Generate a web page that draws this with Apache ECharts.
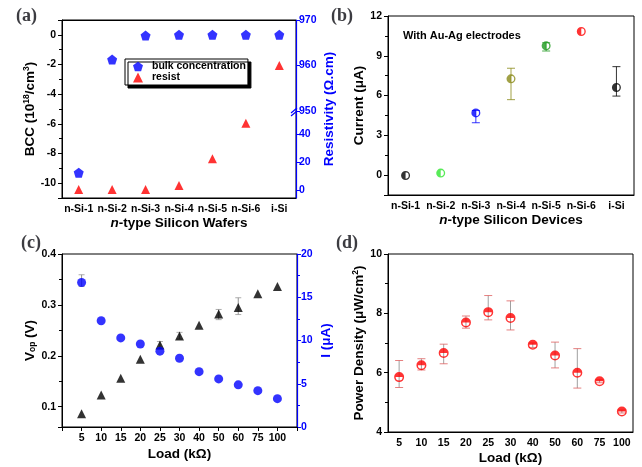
<!DOCTYPE html>
<html>
<head>
<meta charset="utf-8">
<script src="https://cdn.jsdelivr.net/npm/echarts@6/dist/echarts.min.js"></script>
<style>
html, body { margin: 0; padding: 0; background: #fff; }
#main { width: 642px; height: 467px; }
</style>
</head>
<body>
<div id="main"></div>
<script>
// (a) wafers
var wafers = ['n-Si-1', 'n-Si-2', 'n-Si-3', 'n-Si-4', 'n-Si-5', 'n-Si-6', 'i-Si'];
var bcc = [-9.29, -1.67, -0.05, 0, 0, 0, 0];
var resist = [0.3, 0.3, 0.4, 3.3, 22.4, 47.6, 960];

// (b) devices
var current = [-0.03, 0.15, 4.69, 7.26, 9.75, 10.83, 6.61];
var currentLow = [null, null, 3.95, 5.69, 9.36, null, 5.96];
var currentHigh = [null, null, 4.87, 8.06, 9.98, null, 8.18];
var deviceColors = ['#000000', '#2ee62e', '#0000ff', '#8a8a18', '#1e9a1e', '#ff0000', '#000000'];

// (c) load
var loads = ['5', '10', '15', '20', '25', '30', '40', '50', '60', '75', '100'];
var vop = [0.086, 0.123, 0.156, 0.193, 0.221, 0.239, 0.26, 0.282, 0.295, 0.322, 0.336];
var vopLow = [null, null, null, null, 0.213, 0.233, null, 0.271, 0.281, null, null];
var vopHigh = [null, null, null, null, 0.228, 0.246, null, 0.291, 0.314, null, null];
var iLoad = [16.7, 12.28, 10.3, 9.6, 8.77, 7.95, 6.4, 5.56, 4.87, 4.2, 3.28];
var iLow = [16.25, null, null, null, null, null, null, null, null, null, null];
var iHigh = [17.6, null, null, null, null, null, null, null, null, null, null];

// (d) power density
var power = [5.85, 6.25, 6.66, 7.69, 8.04, 7.84, 6.94, 6.58, 6.0, 5.71, 4.69];
var powerLow = [5.5, 6.09, 6.3, 7.5, 7.78, 7.44, 6.85, 6.16, 5.48, 5.66, 4.64];
var powerHigh = [6.41, 6.47, 6.96, 7.91, 8.6, 8.42, 7.0, 7.03, 6.81, 5.76, 4.74];

var FONT = '"Liberation Sans", Arial, sans-serif';
var SERIF = '"Liberation Serif", "Times New Roman", serif';
var BLUE = '#0000ff';

var PENTAGON = 'path://M10 0 L19.5 6.9 L15.9 18.1 L4.1 18.1 L0.5 6.9 Z';
var HALF_LEFT = 'path://M0 10 A10 10 0 1 1 20 10 A10 10 0 1 1 0 10 Z M3 10 A7 7 0 1 0 17 10 A7 7 0 1 0 3 10 Z M10 20 A10 10 0 0 1 10 0 Z';
var HALF_TOP = 'path://M0 10 A10 10 0 1 1 20 10 A10 10 0 1 1 0 10 Z M3 10 A7 7 0 1 0 17 10 A7 7 0 1 0 3 10 Z M0 10 A10 10 0 0 1 20 10 Z';

var nameRich = {
    b: { fontSize: 13.5, fontWeight: 'bold', fontFamily: FONT, color: '#000' },
    i: { fontSize: 13.5, fontWeight: 'bold', fontStyle: 'italic', fontFamily: FONT, color: '#000' },
    sup: { fontSize: 8.5, fontWeight: 'bold', fontFamily: FONT, color: '#000', verticalAlign: 'top', padding: [0, 0, 7, 0] },
    sub: { fontSize: 8.5, fontWeight: 'bold', fontFamily: FONT, color: '#000', verticalAlign: 'bottom', padding: [6, 0, 0, 0] }
};
function blueRich() {
    var r = {};
    for (var k in nameRich) { r[k] = Object.assign({}, nameRich[k], { color: BLUE }); }
    return r;
}

var labelStyle = { fontSize: 10.5, fontWeight: 'bold', fontFamily: FONT, color: '#000', margin: 6 };

function pairs(cats, vals) {
    var out = [];
    for (var i = 0; i < cats.length; i++) {
        if (vals[i] != null) out.push([cats[i], vals[i]]);
    }
    return out;
}
function errData(cats, lo, hi, colors) {
    var out = [];
    for (var i = 0; i < cats.length; i++) {
        if (lo[i] == null) continue;
        var item = { value: [cats[i], lo[i], hi[i]] };
        if (colors) item.itemStyle = { color: colors[i] };
        out.push(item);
    }
    return out;
}
function errorBars(lineColor, capColor, half) {
    return function (params, api) {
        var x = api.value(0);
        var lo = api.coord([x, api.value(1)]);
        var hi = api.coord([x, api.value(2)]);
        var c = api.visual('color');
        var ls = { stroke: lineColor || c, lineWidth: 1, opacity: 0.8 };
        var cs = { stroke: capColor || c, lineWidth: 1, opacity: 0.8 };
        return {
            type: 'group',
            children: [
                { type: 'line', shape: { x1: hi[0], y1: hi[1], x2: lo[0], y2: lo[1] }, style: ls },
                { type: 'line', shape: { x1: hi[0] - half, y1: hi[1], x2: hi[0] + half, y2: hi[1] }, style: cs },
                { type: 'line', shape: { x1: lo[0] - half, y1: lo[1], x2: lo[0] + half, y2: lo[1] }, style: cs }
            ]
        };
    };
}

var gridA = { left: 62, top: 20, width: 234, height: 178 };
var breakY = 111;
var blackLine = { onZero: false, lineStyle: { color: '#000' } };

var chart = echarts.init(document.getElementById('main'));
var option = {
    animation: false,
    textStyle: { fontFamily: FONT },
    title: [
        { text: '(a)', left: 11, top: 2, textStyle: { fontFamily: SERIF, fontSize: 18, fontWeight: 'bold' } },
        { text: '(b)', left: 326, top: 2, textStyle: { fontFamily: SERIF, fontSize: 18, fontWeight: 'bold' } },
        { text: '(c)', left: 16, top: 229, textStyle: { fontFamily: SERIF, fontSize: 18, fontWeight: 'bold' } },
        { text: '(d)', left: 331, top: 229, textStyle: { fontFamily: SERIF, fontSize: 18, fontWeight: 'bold' } },
        { text: 'With Au-Ag electrodes', left: 398, top: 25, textStyle: { fontFamily: FONT, fontSize: 11, fontWeight: 'bold', color: '#000' } }
    ],
    legend: {
        left: 125, top: 59, orient: 'vertical',
        data: ['bulk concentration', 'resist'],
        itemWidth: 10, itemHeight: 10, itemGap: 0,
        padding: [2, 2, 2, 8],
        backgroundColor: '#fff', borderColor: '#000', borderWidth: 1,
        shadowColor: '#000', shadowBlur: 0, shadowOffsetX: 3, shadowOffsetY: 3,
        selectedMode: false,
        textStyle: { fontSize: 10.5, fontWeight: 'bold', fontFamily: FONT, color: '#000', padding: [0, 0, 0, 4] }
    },
    grid: [
        { left: 62, top: 20, width: 234, height: 178, show: true, borderColor: '#000', borderWidth: 1 },
        { left: 62, top: 20, width: 234, height: breakY - 20 },
        { left: 62, top: breakY, width: 234, height: 198 - breakY },
        { left: 388, top: 16, width: 246, height: 179, show: true, borderColor: '#000', borderWidth: 1 },
        { left: 62, top: 254, width: 235, height: 173, show: true, borderColor: '#000', borderWidth: 1 },
        { left: 388, top: 254, width: 245, height: 178, show: true, borderColor: '#000', borderWidth: 1 }
    ],
    xAxis: [
        {
            gridIndex: 0, type: 'category', data: wafers, boundaryGap: true,
            axisLine: blackLine,
            axisTick: { alignWithLabel: true, length: 4, lineStyle: { color: '#000' } },
            axisLabel: Object.assign({ interval: 0 }, labelStyle),
            splitLine: { show: false },
            name: '{i|n}{b|-type Silicon Wafers}', nameLocation: 'middle', nameGap: 17,
            nameTextStyle: { rich: nameRich }
        },
        {
            gridIndex: 0, type: 'category', data: wafers, position: 'top', boundaryGap: true,
            axisLine: blackLine,
            axisTick: { alignWithLabel: true, inside: true, length: 3, lineStyle: { color: '#000' } },
            axisLabel: { show: false }, splitLine: { show: false }
        },
        { gridIndex: 1, type: 'category', data: wafers, boundaryGap: true, show: false },
        { gridIndex: 2, type: 'category', data: wafers, boundaryGap: true, show: false },
        {
            gridIndex: 3, type: 'category', data: wafers, boundaryGap: true,
            axisLine: blackLine,
            axisTick: { alignWithLabel: true, length: 4, lineStyle: { color: '#000' } },
            axisLabel: Object.assign({ interval: 0 }, labelStyle),
            splitLine: { show: false },
            name: '{i|n}{b|-type Silicon Devices}', nameLocation: 'middle', nameGap: 17,
            nameTextStyle: { rich: nameRich }
        },
        {
            gridIndex: 4, type: 'category', data: [''].concat(loads, ['']), boundaryGap: false,
            axisLine: blackLine,
            axisTick: { interval: 0, length: 4, lineStyle: { color: '#000' } },
            axisLabel: Object.assign({ interval: 0 }, labelStyle),
            splitLine: { show: false },
            name: '{b|Load (kΩ)}', nameLocation: 'middle', nameGap: 20,
            nameTextStyle: { rich: nameRich }
        },
        {
            gridIndex: 5, type: 'category', data: loads, boundaryGap: true,
            axisLine: blackLine,
            axisTick: { alignWithLabel: true, interval: 0, length: 4, lineStyle: { color: '#000' } },
            axisLabel: Object.assign({ interval: 0 }, labelStyle),
            splitLine: { show: false },
            name: '{b|Load (kΩ)}', nameLocation: 'middle', nameGap: 19,
            nameTextStyle: { rich: nameRich }
        }
    ],
    yAxis: [
        {
            gridIndex: 0, type: 'value', min: -11, max: 1, minInterval: 2, maxInterval: 2,
            axisLine: { show: true, onZero: false, lineStyle: { color: '#000' } },
            axisTick: { show: true, length: 4, lineStyle: { color: '#000' } },
            minorTick: { show: true, splitNumber: 2, length: 3, lineStyle: { color: '#000' } },
            axisLabel: Object.assign({ showMinLabel: false, showMaxLabel: false }, labelStyle),
            splitLine: { show: false },
            name: '{b|BCC (10}{sup|18}{b|/cm}{sup|3}{b|)}', nameLocation: 'middle', nameGap: 18, nameRotate: 90,
            nameTextStyle: { rich: nameRich }
        },
        {
            gridIndex: 0, type: 'value', position: 'right', min: 0, max: 1,
            axisLine: { show: false }, axisTick: { show: false }, axisLabel: { show: false }, splitLine: { show: false },
            name: '{b|Resistivity (Ω.cm)}', nameLocation: 'middle', nameGap: 26, nameRotate: 90,
            nameTextStyle: { rich: blueRich() }
        },
        {
            gridIndex: 1, type: 'value', position: 'right', min: 950, max: 970, interval: 10,
            axisLine: { show: true, onZero: false, lineStyle: { color: BLUE, width: 1.2 } },
            axisTick: { show: true, length: 4, lineStyle: { color: BLUE } },
            axisLabel: Object.assign({}, labelStyle, { color: BLUE, margin: 3 }),
            splitLine: { show: false }
        },
        {
            gridIndex: 2, type: 'value', position: 'right', min: -5.7, max: 56.4, minInterval: 20, maxInterval: 20,
            axisLine: { show: true, onZero: false, lineStyle: { color: BLUE, width: 1.2 } },
            axisTick: { show: true, length: 4, lineStyle: { color: BLUE } },
            axisLabel: Object.assign({ showMinLabel: false, showMaxLabel: false }, labelStyle, { color: BLUE, margin: 3 }),
            splitLine: { show: false }
        },
        {
            gridIndex: 3, type: 'value', min: -1.5, max: 12, minInterval: 3, maxInterval: 3,
            axisLine: { show: true, onZero: false, lineStyle: { color: '#000' } },
            axisTick: { show: true, length: 4, lineStyle: { color: '#000' } },
            minorTick: { show: true, splitNumber: 2, length: 3, lineStyle: { color: '#000' } },
            axisLabel: Object.assign({ showMinLabel: false }, labelStyle),
            splitLine: { show: false },
            name: '{b|Current (μA)}', nameLocation: 'middle', nameGap: 22, nameRotate: 90,
            nameTextStyle: { rich: nameRich }
        },
        {
            gridIndex: 4, type: 'value', min: 0.06, max: 0.4, minInterval: 0.1, maxInterval: 0.1,
            axisLine: { show: true, onZero: false, lineStyle: { color: '#000' } },
            axisTick: { show: true, length: 4, lineStyle: { color: '#000' } },
            minorTick: { show: true, splitNumber: 2, length: 3, lineStyle: { color: '#000' } },
            axisLabel: Object.assign({ showMinLabel: false }, labelStyle),
            splitLine: { show: false },
            name: '{b|V}{sub|op}{b| (V)}', nameLocation: 'middle', nameGap: 24, nameRotate: 90,
            nameTextStyle: { rich: nameRich }
        },
        {
            gridIndex: 4, type: 'value', position: 'right', min: 0, max: 20, interval: 5,
            axisLine: { show: true, onZero: false, lineStyle: { color: BLUE, width: 1.2 } },
            axisTick: { show: true, length: 4, lineStyle: { color: BLUE } },
            minorTick: { show: true, splitNumber: 2, length: 3, lineStyle: { color: BLUE } },
            axisLabel: Object.assign({}, labelStyle, { color: BLUE, margin: 4 }),
            splitLine: { show: false },
            name: '{b|I (μA)}', nameLocation: 'middle', nameGap: 22, nameRotate: 90,
            nameTextStyle: { rich: blueRich() }
        },
        {
            gridIndex: 5, type: 'value', min: 4, max: 10, interval: 2,
            axisLine: { show: true, onZero: false, lineStyle: { color: '#000' } },
            axisTick: { show: true, length: 4, lineStyle: { color: '#000' } },
            minorTick: { show: true, splitNumber: 2, length: 3, lineStyle: { color: '#000' } },
            axisLabel: labelStyle,
            splitLine: { show: false },
            name: '{b|Power Density (μW/cm}{sup|2}{b|)}', nameLocation: 'middle', nameGap: 13, nameRotate: 90,
            nameTextStyle: { rich: nameRich }
        }
    ],
    series: [
        {
            name: 'bulk concentration', type: 'scatter', xAxisIndex: 0, yAxisIndex: 0,
            symbol: PENTAGON, symbolSize: 10, itemStyle: { color: BLUE },
            data: pairs(wafers, bcc)
        },
        {
            name: 'resist', type: 'scatter', xAxisIndex: 3, yAxisIndex: 3,
            symbol: 'triangle', symbolSize: 9, itemStyle: { color: '#ff0000' },
            data: pairs(wafers, resist.map(function (v) { return v < 900 ? v : null; }))
        },
        {
            name: 'resist', type: 'scatter', xAxisIndex: 2, yAxisIndex: 2,
            symbol: 'triangle', symbolSize: 9, itemStyle: { color: '#ff0000' },
            data: pairs(wafers, resist.map(function (v) { return v >= 900 ? v : null; }))
        },
        {
            type: 'custom', xAxisIndex: 4, yAxisIndex: 4,
            renderItem: errorBars(null, null, 4),
            encode: { x: 0, y: [1, 2] },
            data: errData(wafers, currentLow, currentHigh, deviceColors), z: 1
        },
        {
            type: 'scatter', xAxisIndex: 4, yAxisIndex: 4, symbol: HALF_LEFT, symbolSize: 9, z: 3,
            data: wafers.map(function (w, i) {
                return { value: [w, current[i]], itemStyle: { color: deviceColors[i] } };
            })
        },
        {
            type: 'custom', xAxisIndex: 5, yAxisIndex: 5, itemStyle: { color: '#888' },
            renderItem: errorBars('#777', '#999', 3),
            encode: { x: 0, y: [1, 2] },
            data: errData(loads, vopLow, vopHigh), z: 1
        },
        {
            type: 'scatter', xAxisIndex: 5, yAxisIndex: 5, symbol: 'triangle', symbolSize: 9, z: 3,
            itemStyle: { color: '#000' }, data: pairs(loads, vop)
        },
        {
            type: 'custom', xAxisIndex: 5, yAxisIndex: 6, itemStyle: { color: '#888' },
            renderItem: errorBars('#777', '#999', 3),
            encode: { x: 0, y: [1, 2] },
            data: errData(loads, iLow, iHigh), z: 1
        },
        {
            type: 'scatter', xAxisIndex: 5, yAxisIndex: 6, symbol: 'circle', symbolSize: 9, z: 3,
            itemStyle: { color: BLUE }, data: pairs(loads, iLoad)
        },
        {
            type: 'custom', xAxisIndex: 6, yAxisIndex: 7, itemStyle: { color: '#e06060' },
            renderItem: errorBars('#888', '#e06060', 4),
            encode: { x: 0, y: [1, 2] },
            data: errData(loads, powerLow, powerHigh), z: 1
        },
        {
            type: 'scatter', xAxisIndex: 6, yAxisIndex: 7, symbol: HALF_TOP, symbolSize: 10, z: 3,
            itemStyle: { color: '#ff0000' }, data: pairs(loads, power)
        }
    ]
};
chart.setOption(option);

// axis break mark on the resistivity axis
var bx = gridA.left + gridA.width;
var by = chart.convertToPixel({ yAxisIndex: 2 }, 950);
chart.setOption({
    graphic: [
        { type: 'line', shape: { x1: bx - 5, y1: by + 2, x2: bx + 1, y2: by - 3 }, style: { stroke: BLUE, lineWidth: 1.2 }, z: 10 },
        { type: 'line', shape: { x1: bx - 5, y1: by + 5, x2: bx + 1, y2: by }, style: { stroke: BLUE, lineWidth: 1.2 }, z: 10 }
    ]
});
</script>
</body>
</html>
